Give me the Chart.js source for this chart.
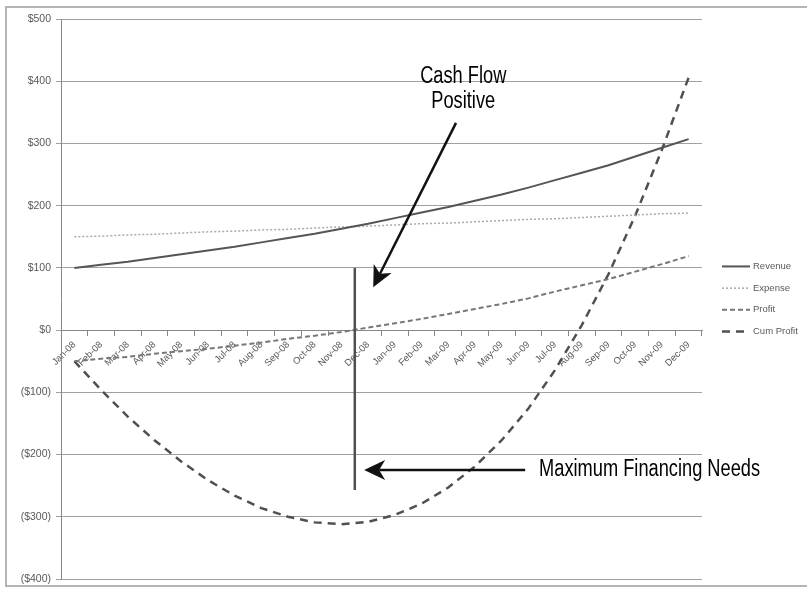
<!DOCTYPE html>
<html>
<head>
<meta charset="utf-8">
<script src="https://cdn.jsdelivr.net/npm/chart.js@4.4.1/dist/chart.umd.min.js"></script>
<style>
  html, body { margin: 0; padding: 0; background: #fff; }
  #wrap { width: 807px; height: 594px; }
</style>
</head>
<body>
<div id="wrap"><canvas id="cashChart" width="807" height="594"></canvas></div>
<script>
const months = ["Jan-08", "Feb-08", "Mar-08", "Apr-08", "May-08", "Jun-08", "Jul-08", "Aug-08", "Sep-08", "Oct-08", "Nov-08", "Dec-08",
                "Jan-09", "Feb-09", "Mar-09", "Apr-09", "May-09", "Jun-09", "Jul-09", "Aug-09", "Sep-09", "Oct-09", "Nov-09", "Dec-09"];

const revenue   = [100, 105, 110, 116, 122, 128, 134, 141, 148, 155, 163, 171, 180, 189, 198, 208, 218, 229, 241, 253, 265, 279, 293, 307];
const expense   = [150, 151, 153, 154, 156, 158, 159, 161, 162, 164, 166, 167, 169, 171, 172, 174, 176, 178, 179, 181, 183, 185, 187, 188];
const profit    = [-50, -46, -43, -38, -34, -30, -25, -20, -14, -9, -3, 4, 11, 18, 26, 34, 42, 51, 62, 72, 82, 94, 106, 119];
const cumProfit = [-50, -96, -139, -177, -211, -241, -266, -286, -300, -309, -312, -308, -297, -279, -253, -219, -177, -126, -64, 8, 90, 184, 290, 406];

const yTicks = [-400, -300, -200, -100, 0, 100, 200, 300, 400, 500];

function money(v) {
    return v < 0 ? "($" + (-v) + ")" : "$" + v;
}

// light frame round the whole chart, like the spreadsheet chart area
const frame = {
    id: "frame",
    beforeDraw(chart) {
        const ctx = chart.ctx;
        ctx.save();
        ctx.fillStyle = "#fff";
        ctx.fillRect(0, 0, chart.width, chart.height);
        ctx.strokeStyle = "#b4b4b4";
        ctx.lineWidth = 2;
        ctx.strokeRect(6, 7, chart.width, chart.height - 15);
        ctx.restore();
    }
};

// legend on the right, drawn from the datasets' own styles
const sideLegend = {
    id: "sideLegend",
    afterDraw(chart) {
        const ctx = chart.ctx;
        const area = chart.chartArea;
        const x0 = area.right + 20;
        const step = 21.7;
        let y = (area.top + area.bottom) / 2 - step * 1.5;
        chart.data.datasets.forEach(ds => {
            ctx.save();
            ctx.strokeStyle = ds.borderColor;
            ctx.lineWidth = ds.borderWidth;
            ctx.setLineDash(ds.borderDash || []);
            ctx.beginPath();
            ctx.moveTo(x0, y);
            ctx.lineTo(x0 + 28, y);
            ctx.stroke();
            ctx.fillStyle = "#595959";
            ctx.font = '9.5px "Liberation Sans", sans-serif';
            ctx.textBaseline = "middle";
            ctx.fillText(ds.label, x0 + 31, y);
            ctx.restore();
            y += step;
        });
    }
};

function drawArrow(ctx, x1, y1, x2, y2) {
    const ang = Math.atan2(y2 - y1, x2 - x1);
    const len = 21, half = 10, notch = 6;
    ctx.beginPath();
    ctx.moveTo(x1, y1);
    ctx.lineTo(x2 - Math.cos(ang) * (len - notch), y2 - Math.sin(ang) * (len - notch));
    ctx.stroke();
    ctx.save();
    ctx.translate(x2, y2);
    ctx.rotate(ang);
    ctx.beginPath();
    ctx.moveTo(0, 0);
    ctx.lineTo(-len, -half);
    ctx.lineTo(-len + notch, 0);
    ctx.lineTo(-len, half);
    ctx.closePath();
    ctx.fill();
    ctx.restore();
}

// callouts, placed in data space
const callouts = {
    id: "callouts",
    afterDatasetsDraw(chart) {
        const ctx = chart.ctx;
        const x = chart.scales.x, y = chart.scales.y;
        ctx.save();

        // break-even marker
        ctx.strokeStyle = "#505050";
        ctx.lineWidth = 2.5;
        ctx.beginPath();
        ctx.moveTo(x.getPixelForValue(10.5), y.getPixelForValue(100));
        ctx.lineTo(x.getPixelForValue(10.5), y.getPixelForValue(-257));
        ctx.stroke();

        ctx.strokeStyle = "#111";
        ctx.fillStyle = "#111";
        ctx.lineWidth = 2.5;
        drawArrow(ctx, x.getPixelForValue(14.29), y.getPixelForValue(333), x.getPixelForValue(11.19), y.getPixelForValue(69));
        drawArrow(ctx, x.getPixelForValue(16.88), y.getPixelForValue(-225), x.getPixelForValue(10.85), y.getPixelForValue(-225));

        // narrow headline type: squeeze a sans to the reference width
        ctx.font = '23px "Liberation Sans Narrow", "Liberation Sans", sans-serif';
        ctx.fillStyle = "#000";
        ctx.textBaseline = "middle";
        const sx = 221 / ctx.measureText("Maximum Financing Needs").width;
        const say = (text, px, py, align) => {
            ctx.save();
            ctx.translate(px, py);
            ctx.scale(sx, 1);
            ctx.textAlign = align;
            ctx.fillText(text, 0, 0);
            ctx.restore();
        };
        say("Cash Flow", x.getPixelForValue(14.56), y.getPixelForValue(407), "center");
        say("Positive", x.getPixelForValue(14.56), y.getPixelForValue(367), "center");
        say("Maximum Financing Needs", x.getPixelForValue(17.4), y.getPixelForValue(-225), "left");
        ctx.restore();
    }
};

new Chart(document.getElementById("cashChart"), {
    type: "line",
    data: {
        labels: months,
        datasets: [
            {label: "Revenue", data: revenue, borderColor: "#555", borderWidth: 2, pointRadius: 0, fill: false},
            {label: "Expense", data: expense, borderColor: "#aaa", borderWidth: 1.5, borderDash: [2, 2], pointRadius: 0, fill: false},
            {label: "Profit", data: profit, borderColor: "#777", borderWidth: 2, borderDash: [5, 3], pointRadius: 0, fill: false},
            {label: "Cum Profit", data: cumProfit, borderColor: "#505050", borderWidth: 2.5, borderDash: [8, 6], pointRadius: 0, fill: false}
        ]
    },
    options: {
        responsive: false,
        animation: false,
        layout: {padding: {left: 6, top: 19, right: 105, bottom: 15}},
        plugins: {
            legend: {display: false},
            tooltip: {enabled: false}
        },
        scales: {
            x: {
                type: "category",
                offset: true,
                position: {y: 0},
                grid: {offset: true, drawOnChartArea: false, tickLength: 5, color: "#888"},
                border: {color: "#888"},
                ticks: {
                    autoSkip: false,
                    maxRotation: 45,
                    minRotation: 45,
                    padding: 4,
                    color: "#595959",
                    font: {family: "Liberation Sans", size: 9.5}
                }
            },
            y: {
                min: -400,
                max: 500,
                afterFit(scale) { scale.width = 55; },
                afterBuildTicks(scale) { scale.ticks = yTicks.map(v => ({value: v})); },
                grid: {color: "#a0a0a0", tickLength: 5},
                border: {color: "#888"},
                ticks: {
                    padding: 5,
                    color: "#595959",
                    font: {family: "Liberation Sans", size: 10.5},
                    callback: v => money(v)
                }
            }
        }
    },
    plugins: [frame, sideLegend, callouts]
});
</script>
</body>
</html>
